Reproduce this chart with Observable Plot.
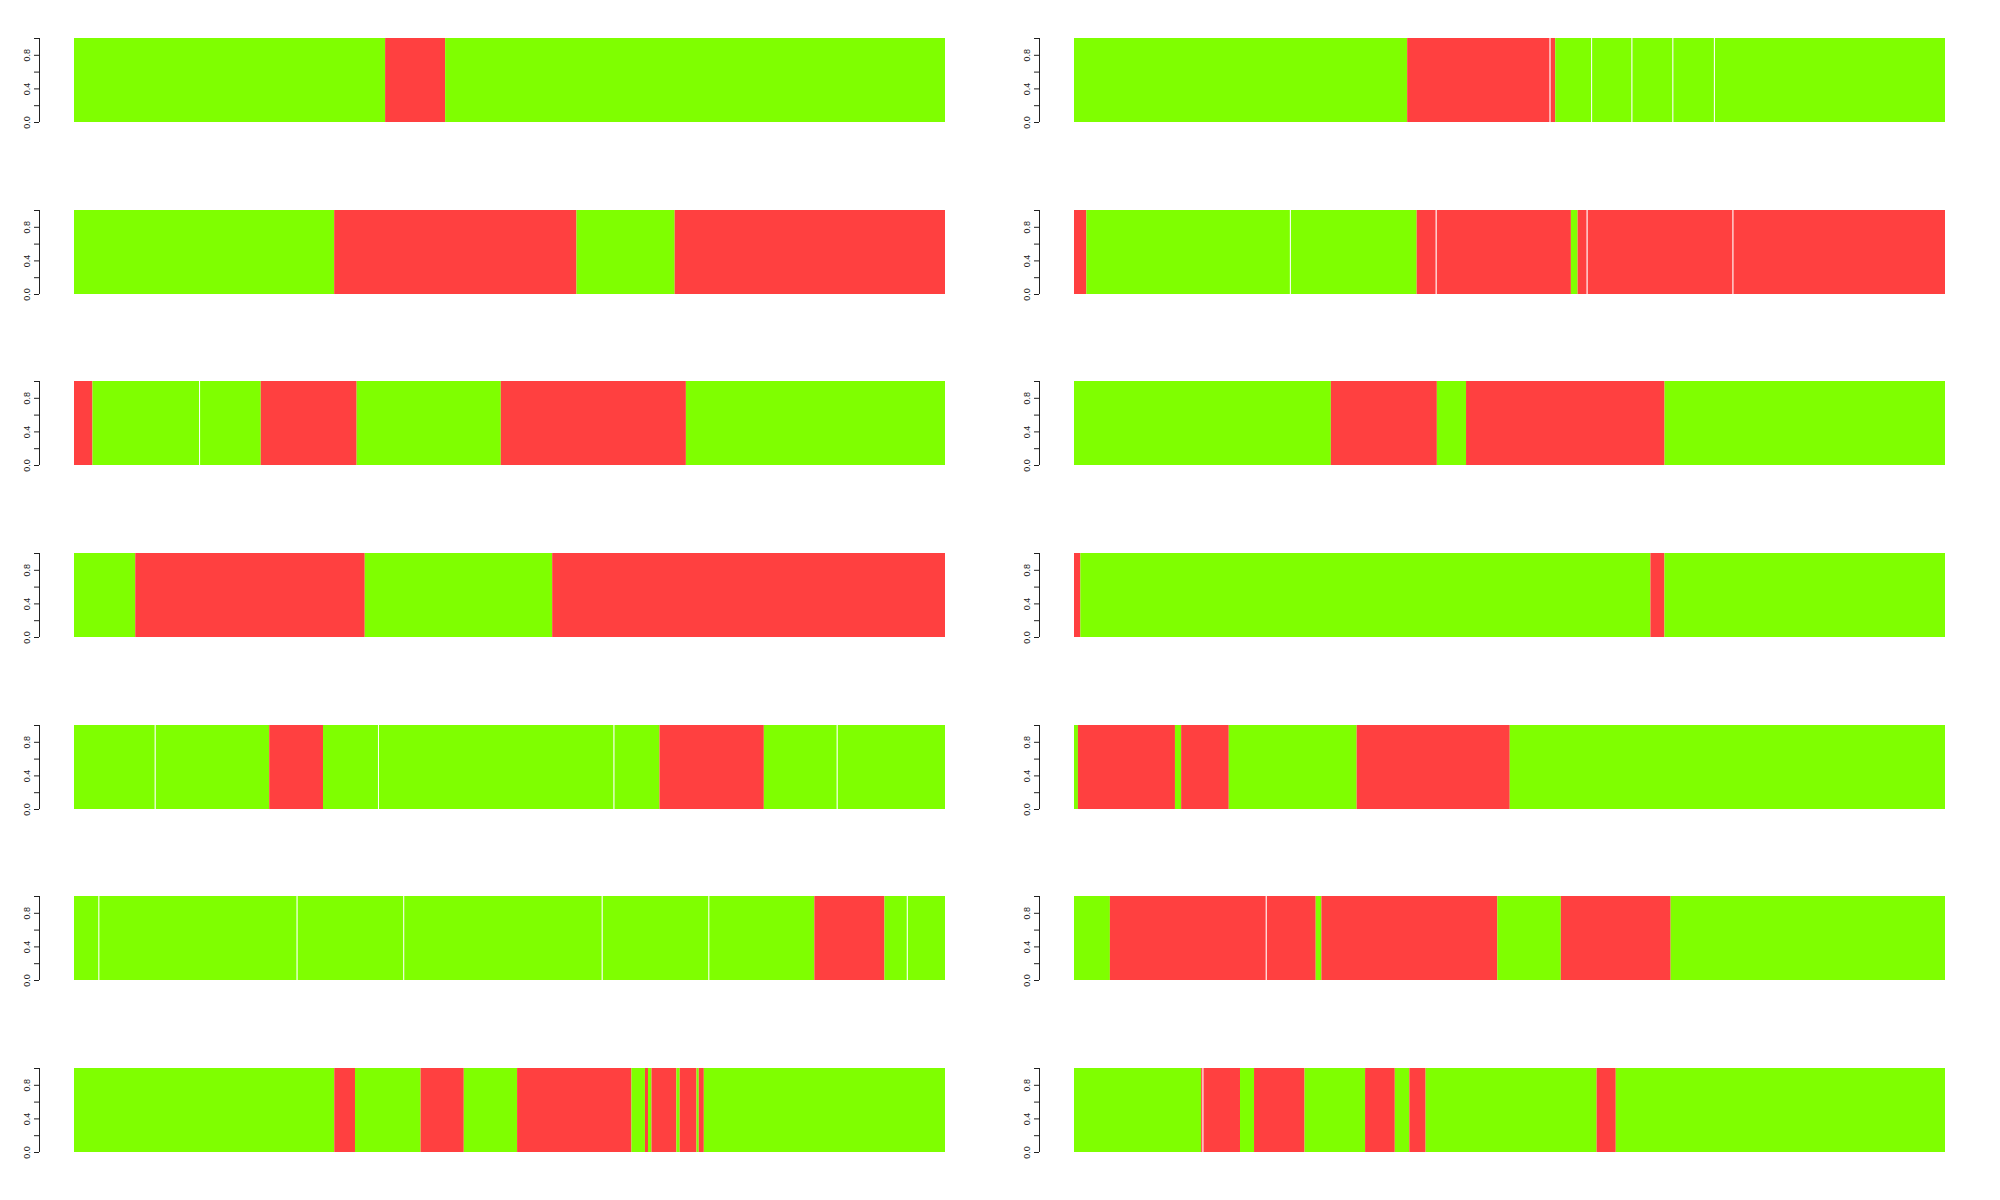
<!DOCTYPE html>
<html>
<head>
<meta charset="utf-8">
<script src="https://cdn.jsdelivr.net/npm/d3@7"></script>
<script src="https://cdn.jsdelivr.net/npm/@observablehq/plot@0.6"></script>
<style>
  html, body { margin: 0; padding: 0; background: #ffffff; }
  #chart { position: relative; width: 2000px; height: 1200px; background: #ffffff; }
  #chart .panel { position: absolute; }
</style>
</head>
<body>
<div id="chart"></div>
<script>
// Panel order: left column rows 1..7, then right column rows 1..7
const panelNames = ["L1","L2","L3","L4","L5","L6","L7","R1","R2","R3","R4","R5","R6","R7"];
const panelColumn = [0,0,0,0,0,0,0,1,1,1,1,1,1,1];
const panelRow    = [0,1,2,3,4,5,6,0,1,2,3,4,5,6];

// Segment boundaries (percent of track length) for each panel
const panelBreaks = [
  [0, 35.72, 42.61, 100],
  [0, 29.87, 57.69, 68.96, 100],
  [0, 2.12, 14.36, 21.44, 32.45, 49.0, 70.25, 100],
  [0, 7.03, 33.38, 54.9, 100],
  [0, 9.27, 22.41, 28.59, 34.9, 61.94, 67.22, 79.2, 87.57, 100],
  [0, 2.8, 25.56, 37.8, 60.59, 72.83, 85.0, 93.05, 95.62, 100],
  [0, 29.88, 32.26, 39.79, 44.75, 50.87, 64.0, 65.55, 65.9, 66.3, 69.16, 69.54, 71.47, 71.73, 72.31, 100],
  [0, 38.25, 54.6, 55.25, 59.37, 64.0, 68.7, 73.47, 100],
  [0, 1.42, 24.79, 39.34, 41.53, 57.05, 57.82, 58.86, 75.6, 100],
  [0, 29.49, 41.66, 45.01, 67.8, 100],
  [0, 0.73, 66.18, 67.79, 100],
  [0, 0.45, 11.59, 12.3, 17.77, 32.45, 50.03, 100],
  [0, 4.12, 22.02, 27.75, 28.4, 48.6, 55.89, 68.5, 100],
  [0, 14.6, 14.75, 19.06, 20.67, 26.47, 33.42, 36.83, 38.5, 40.37, 60.0, 62.2, 100]
];

// Segment states (G = green, R = red), one letter per segment
const panelStates = [
  "GRG",
  "GRGR",
  "RGGRGRG",
  "GRGR",
  "GGRGGGRGG",
  "GGGGGGRGG",
  "GRGRGRGRGRGRGRG",
  "GRRGGGGG",
  "RGGRRGRRR",
  "GRGRG",
  "RGRG",
  "GRGRGRG",
  "GRRGRGRG",
  "GRRGRGRGRGRG"
];

const yTicks = [0, 0.2, 0.4, 0.6, 0.8, 1.0];

const stateDomain = ["G", "R"];
const stateColors = ["#7FFF00", "#FF4040"];

const rowTop0 = 38.3;
const rowStep = 171.55;
const panelInnerH = 84;
const padTop = 20, padBottom = 20;

const chart = document.getElementById("chart");

panelNames.forEach((name, i) => {
  const br = panelBreaks[i];
  const st = panelStates[i];
  const segs = [];
  for (let k = 0; k < st.length; k++) {
    segs.push({x1: br[k], x2: br[k + 1], state: st[k]});
  }
  // thin white separators where two adjacent segments share the same state
  const seps = [];
  for (let k = 1; k < st.length; k++) {
    if (st[k] === st[k - 1]) seps.push(br[k]);
  }

  const svg = Plot.plot({
    width: 1000,
    height: padTop + panelInnerH + padBottom,
    marginTop: padTop,
    marginBottom: padBottom,
    marginLeft: 74,
    marginRight: 55,
    x: {domain: [0, 100], axis: null},
    y: {domain: [0, 1]},
    color: {domain: stateDomain, range: stateColors},
    style: {fontFamily: "'Liberation Sans', Arial, sans-serif", fontSize: "9px", color: "#222", background: "transparent", overflow: "visible"},
    marks: [
      Plot.rect(segs, {x1: "x1", x2: "x2", y1: 0, y2: 1, fill: "state"}),
      Plot.ruleX(seps, {x: d => d, y1: 0, y2: 1, stroke: "white", strokeWidth: 1}),
      Plot.ruleX([0], {y1: 0, y2: 1, dx: -35, stroke: "#222", strokeWidth: 1}),
      Plot.axisY({
        ticks: yTicks,
        tickSize: 5,
        tickPadding: 5,
        tickRotate: -90,
        dx: -35,
        label: null,
        tickFormat: d => (Math.round(d * 10) % 4 === 0 ? d.toFixed(1) : "")
      })
    ]
  });
  svg.classList.add("panel");
  svg.style.left = (panelColumn[i] * 1000) + "px";
  svg.style.top = (rowTop0 + rowStep * panelRow[i] - padTop) + "px";
  chart.appendChild(svg);
});
</script>
</body>
</html>
